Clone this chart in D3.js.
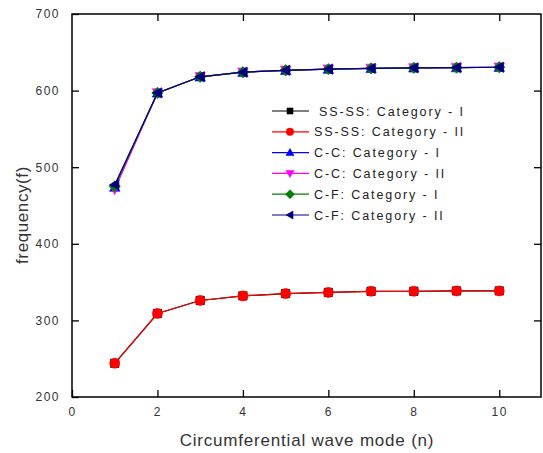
<!DOCTYPE html>
<html lang="en">
<head>
    <meta charset="UTF-8">
    <title>Frequency vs circumferential wave mode</title>
    <script src="https://cdn.jsdelivr.net/npm/d3@7"></script>
    <style>
        body {
            margin: 0;
            background-color: #fff;
            font-family: Arial, 'Liberation Sans', sans-serif;
        }
        svg {
            display: block;
        }
    </style>
</head>
<body>
    <svg></svg>

    <script>
        // data
        const modes = [1, 2, 3, 4, 5, 6, 7, 8, 9, 10];
        const ssssCat1 = [244, 309, 326, 332, 335, 336.5, 338, 338, 338.5, 338.5];
        const ssssCat2 = [244, 309, 326, 332, 335, 336.5, 338, 338, 338.5, 338.5];
        const ccCat1 = [474, 597, 618, 624, 626.5, 628, 629, 629.7, 630, 630.5];
        const ccCat2 = [471, 597, 618, 624, 626.5, 628, 629, 629.7, 630, 630.5];
        const cfCat1 = [475, 597, 618, 624, 626.5, 628, 629, 629.7, 630, 630.5];
        const cfCat2 = [477, 597, 618, 624, 626.5, 628, 629, 629.7, 630, 630.5];

        const xTicks = [0, 2, 4, 6, 8, 10];
        const yTicks = [200, 300, 400, 500, 600, 700];

        const series = [
            { name: "SS-SS: Category - I", values: ssssCat1, color: "#000000", symbol: "square" },
            { name: "SS-SS: Category - II", values: ssssCat2, color: "#ff0000", symbol: "circle" },
            { name: "C-C: Category - I", values: ccCat1, color: "#0000ff", symbol: "triUp" },
            { name: "C-C: Category - II", values: ccCat2, color: "#ff00ff", symbol: "triDown" },
            { name: "C-F: Category - I", values: cfCat1, color: "#008000", symbol: "diamond" },
            { name: "C-F: Category - II", values: cfCat2, color: "#000080", symbol: "triLeft" }
        ];

        const width = 543;
        const height = 453;
        const margin = { top: 14, right: 1, bottom: 56, left: 72 };

        const svg = d3.select("svg")
            .attr("width", width)
            .attr("height", height);

        const x = d3.scaleLinear()
            .domain([0, 11])
            .range([margin.left, width - margin.right]);

        const y = d3.scaleLinear()
            .domain([200, 700])
            .range([height - margin.bottom, margin.top]);

        // marker shapes, centred on 0,0
        function markerPath(sym, s) {
            switch (sym) {
                case "square":
                    return `M${-s},${-s}H${s}V${s}H${-s}Z`;
                case "circle":
                    return d3.symbol(d3.symbolCircle, Math.PI * (s + 0.8) * (s + 0.8))();
                case "triUp":
                    return `M0,${-s - 1}L${s + 1},${s}L${-s - 1},${s}Z`;
                case "triDown":
                    return `M0,${s + 1}L${s + 1},${-s}L${-s - 1},${-s}Z`;
                case "diamond":
                    return `M0,${-s - 1.5}L${s + 1.5},0L0,${s + 1.5}L${-s - 1.5},0Z`;
                case "triLeft":
                    return `M${-s - 1},0L${s},${-s - 1}L${s},${s + 1}Z`;
            }
        }

        const line = d3.line()
            .x((d, i) => x(modes[i]))
            .y(d => y(d));

        const plot = svg.append("g");

        series.forEach(s => {
            plot.append("path")
                .datum(s.values)
                .attr("fill", "none")
                .attr("stroke", s.color)
                .attr("stroke-width", 1.2)
                .attr("d", line);

            plot.selectAll(null)
                .data(s.values)
                .enter().append("path")
                .attr("transform", (d, i) => `translate(${x(modes[i])},${y(d)})`)
                .attr("d", markerPath(s.symbol, 4.2))
                .attr("fill", s.color)
                .attr("stroke", s.color)
                .attr("stroke-width", 0.6);
        });

        // axes with inward ticks on all four sides
        const tickLen = 7;
        const axisColor = "#000";

        svg.append("g")
            .attr("transform", `translate(0,${y(200)})`)
            .call(d3.axisBottom(x).tickValues(xTicks).tickSizeInner(-tickLen).tickSizeOuter(0).tickPadding(10))
            .call(g => g.select(".domain").remove());

        svg.append("g")
            .attr("transform", `translate(0,${y(700)})`)
            .call(d3.axisTop(x).tickValues(xTicks.slice(1)).tickSizeInner(-tickLen).tickSizeOuter(0).tickFormat(""))
            .call(g => g.select(".domain").remove());

        svg.append("g")
            .attr("transform", `translate(${x(0)},0)`)
            .call(d3.axisLeft(y).tickValues(yTicks).tickSizeInner(-tickLen).tickSizeOuter(0).tickPadding(12))
            .call(g => g.select(".domain").remove());

        svg.append("g")
            .attr("transform", `translate(${x(11) - 1},0)`)
            .call(d3.axisRight(y).tickValues(yTicks.slice(1, -1)).tickSizeInner(-tickLen).tickSizeOuter(0).tickFormat(""))
            .call(g => g.select(".domain").remove());

        svg.selectAll(".tick line")
            .attr("stroke", axisColor)
            .attr("stroke-width", 1.3);

        svg.selectAll(".tick text")
            .attr("fill", "#333")
            .style("font-size", "12px")
            .style("letter-spacing", "1.5px")
            .style("font-family", "Arial, 'Liberation Sans', sans-serif");

        // plot frame
        svg.append("rect")
            .attr("x", x(0))
            .attr("y", y(700))
            .attr("width", x(11) - 1 - x(0))
            .attr("height", y(200) - y(700))
            .attr("fill", "none")
            .attr("stroke", axisColor)
            .attr("stroke-width", 1.5);

        // axis titles
        svg.append("text")
            .attr("x", (x(0) + x(11)) / 2)
            .attr("y", 446)
            .attr("text-anchor", "middle")
            .attr("fill", "#333")
            .style("font-size", "17px")
            .style("letter-spacing", "0.8px")
            .text("Circumferential wave mode (n)");

        svg.append("text")
            .attr("transform", "translate(28,215) rotate(-90)")
            .attr("text-anchor", "middle")
            .attr("fill", "#333")
            .style("font-size", "17px")
            .style("letter-spacing", "0.6px")
            .text("frequency(f)");

        // legend
        const legend = svg.append("g");
        const rowY = 111;
        const rowGap = 20.8;

        series.forEach((s, i) => {
            const ly = rowY + i * rowGap;
            legend.append("line")
                .attr("x1", 272).attr("x2", 309)
                .attr("y1", ly).attr("y2", ly)
                .attr("stroke", s.color)
                .attr("stroke-width", 1.2);
            legend.append("path")
                .attr("transform", `translate(290,${ly})`)
                .attr("d", markerPath(s.symbol, 3))
                .attr("fill", s.color)
                .attr("stroke", s.color)
                .attr("stroke-width", 0.6);
            legend.append("text")
                .attr("x", i === 0 ? 319 : 314)
                .attr("y", ly)
                .attr("dy", "0.36em")
                .attr("fill", "#222")
                .style("font-size", "12.5px")
                .style("letter-spacing", "1.9px")
                .text(s.name);
        });
    </script>
</body>
</html>
